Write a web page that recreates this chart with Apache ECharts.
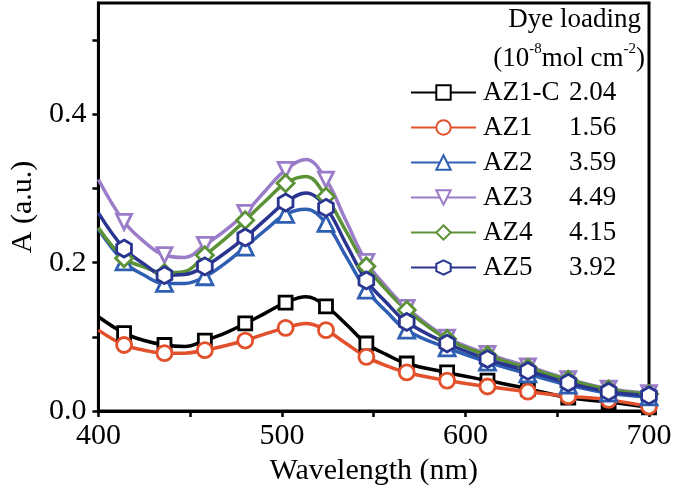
<!DOCTYPE html>
<html><head><meta charset="utf-8">
<script src="https://cdn.jsdelivr.net/npm/echarts@6/dist/echarts.min.js"></script>
<style>html,body{margin:0;padding:0;background:#fff}#c{width:675px;height:501px}</style>
</head><body><div id="c"></div>
<script>
const wavelength = [400,414,425,436,447,458,469,480,491,502,513,524,535,546,557,568,590,612,634,656,678,700];
const markerAt = [414,436,458,480,502,524,546,568,590,612,634,656,678,700];
const names = ['AZ1-C','AZ1','AZ2','AZ3','AZ4','AZ5'];
const loading = ['2.04','1.56','3.59','4.49','4.15','3.92'];
const az1c = [.127,.105,.095,.089,.087,.095,.105,.118,.132,.146,.154,.141,.117,.091,.076,.064,.052,.041,.030,.018,.012,.005];
const az1  = [.109,.089,.082,.078,.078,.082,.088,.095,.104,.112,.118,.109,.091,.073,.061,.052,.041,.033,.026,.020,.015,.006];
const az2  = [.245,.201,.183,.172,.172,.181,.199,.221,.244,.265,.272,.253,.208,.163,.134,.109,.085,.066,.050,.035,.024,.019];
const az3  = [.312,.255,.228,.210,.207,.224,.243,.267,.297,.325,.339,.312,.256,.201,.167,.139,.099,.077,.060,.043,.030,.024];
const az4  = [.247,.206,.194,.186,.188,.210,.232,.257,.283,.307,.316,.289,.242,.195,.163,.136,.097,.075,.058,.042,.029,.023];
const az5  = [.267,.219,.198,.183,.184,.195,.213,.234,.258,.281,.294,.274,.225,.176,.146,.120,.091,.070,.054,.038,.026,.021];
const xTicks = [400,500,600,700];
const yTicks = ['0.0','0.2','0.4'];

const values = [az1c, az1, az2, az3, az4, az5];
const colors = ['#000000','#e2502c','#2e5fb3','#9b7cc8','#5c9236','#2a3590'];
const hex = 'path://M0,-1L0.866,-0.5L0.866,0.5L0,1L-0.866,0.5L-0.866,-0.5Z';
const symbols = ['rect','circle','triangle','triangle','diamond',hex];
const rotates = [0,0,0,180,0,0];
const sizes = [13,15,16,15,17,17];
const FONT = '"Liberation Serif","Times New Roman",serif';

const series = names.map((n,i)=>({
  name:n, type:'line', smooth:0.4,
  symbol:symbols[i], symbolRotate:rotates[i], symbolSize:sizes[i], symbolKeepAspect:true,
  lineStyle:{color:colors[i], width:3.5},
  itemStyle:{color:'#ffffff', borderColor:colors[i], borderWidth:2.8},
  emphasis:{disabled:true},
  data: wavelength.map((w,k)=>{
    const it = {value:[w, values[i][k]]};
    if (markerAt.indexOf(w) < 0) it.symbol = 'none';
    return it;
  })
}));

const lookup = {}; names.forEach((n,i)=>lookup[n]=loading[i]);

const chart = echarts.init(document.getElementById('c'));
chart.setOption({
  animation:false,
  backgroundColor:'#fff',
  grid:{left:97, right:26, top:3, bottom:90, show:true, borderColor:'#000', borderWidth:3},
  xAxis:{type:'value', min:400, max:700, interval:50,
    name:'Wavelength (nm)', nameLocation:'middle', nameGap:44,
    nameTextStyle:{fontFamily:FONT, fontSize:30, color:'#000'},
    axisLine:{show:true, onZero:false, lineStyle:{color:'#000', width:3}},
    axisTick:{show:true, inside:false, length:6, lineStyle:{width:2.5, color:'#000'}},
    axisLabel:{fontFamily:FONT, fontSize:30, color:'#000', margin:10,
      formatter:v=> xTicks.indexOf(v)>=0 ? String(v) : ''},
    splitLine:{show:false}},
  yAxis:{type:'value', min:0, max:0.55, interval:0.1,
    name:'A (a.u.)', nameLocation:'middle', nameGap:58,
    nameTextStyle:{fontFamily:FONT, fontSize:30, color:'#000'},
    axisLine:{show:true, lineStyle:{color:'#000', width:3}},
    axisTick:{show:true, inside:false, length:6, lineStyle:{width:2.5, color:'#000'}},
    axisLabel:{fontFamily:FONT, fontSize:30, color:'#000', margin:12, showMaxLabel:false,
      formatter:v=>{const s=v.toFixed(1); return yTicks.indexOf(s)>=0 ? s : '';}},
    splitLine:{show:false}},
  legend:{orient:'vertical', left:410, top:79, padding:0, itemGap:8,
    itemWidth:65, itemHeight:18, selectedMode:false,
    data:names,
    formatter:n=>'{n|'+n+'}{v|'+lookup[n]+'}',
    textStyle:{fontFamily:FONT, fontSize:27, color:'#000', padding:[0,0,0,2],
      rich:{n:{fontFamily:FONT, fontSize:27, color:'#000', width:86},
            v:{fontFamily:FONT, fontSize:27, color:'#000'}}}},
  graphic:[
    {type:'text', right:34, top:6, style:{text:'Dye loading', font:'27px '+FONT, fill:'#000'}},
    {type:'text', right:30, top:42, style:{
      text:'{a|(10}{s|-8}{a|mol cm}{s|-2}{a|)}',
      rich:{a:{fontFamily:FONT, fontSize:27, color:'#000', verticalAlign:'bottom', lineHeight:30},
            s:{fontFamily:FONT, fontSize:15, color:'#000', verticalAlign:'top', lineHeight:30}}}}
  ],
  series:series
});
</script></body></html>
